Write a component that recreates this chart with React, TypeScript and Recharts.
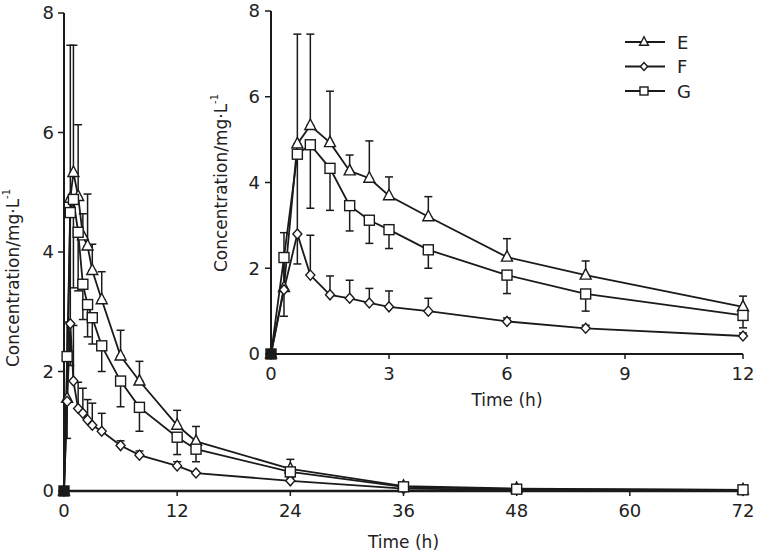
import React from 'react';
import { LineChart, Line, XAxis, YAxis, ErrorBar, Label } from 'recharts';

// sampling times (h)
const times = [0, 0.33, 0.67, 1, 1.5, 2, 2.5, 3, 4, 6, 8, 12, 14, 24, 36, 48, 72];

// mean concentrations, mg/L
const seriesE = [0, 1.55, 4.9, 5.33, 4.93, 4.27, 4.1, 3.69, 3.2, 2.26, 1.84, 1.1, 0.83, 0.37, 0.08, 0.04, 0.02];
const seriesF = [0, 1.5, 2.8, 1.84, 1.38, 1.3, 1.19, 1.1, 1.0, 0.76, 0.6, 0.42, 0.3, 0.17, 0.04, 0.02, 0.01];
const seriesG = [0, 2.25, 4.66, 4.88, 4.33, 3.46, 3.12, 2.9, 2.43, 1.84, 1.4, 0.9, 0.7, 0.32, 0.07, 0.03, 0.02];

// SD: E and F drawn upwards, G drawn downwards
const sdE = [0, 1.28, 2.56, 2.13, 1.2, 0.37, 0.87, 0.44, 0.47, 0.43, 0.33, 0.25, 0.25, 0.16, 0.04, 0.02, 0];
const sdF = [0, 0, 0, 0.93, 0.44, 0.42, 0.34, 0.37, 0.3, 0.08, 0.07, 0.07, 0, 0, 0, 0, 0];
const sdG = [0, 1.37, 2.56, 1.48, 0.98, 0.59, 0.54, 0.44, 0.43, 0.43, 0.4, 0.29, 0.21, 0.1, 0.02, 0, 0];

const mainTicks = [0, 12, 24, 36, 48, 60, 72];
const insetTicks = [0, 3, 6, 9, 12];
const concTicks = [0, 2, 4, 6, 8];
const legendNames = ['E', 'F', 'G'];

const data = times.map((t, i) => ({
  t,
  E: seriesE[i],
  F: seriesF[i],
  G: seriesG[i],
  eE: [0, sdE[i]],
  eF: [0, sdF[i]],
  eG: [sdG[i], 0],
}));
const insetData = data.filter((d) => d.t <= 12);

const INK = '#1a1a1a';
const FONT = 'DejaVu Sans';
const tickStyle = { fontSize: 18, fill: '#222', fontFamily: FONT };
const labelStyle = { fontSize: 17, fill: '#222', fontFamily: FONT };

type Shape = 'tri' | 'dia' | 'sq';

const Marker = ({ shape, cx, cy, fill, s = 1 }: { shape: Shape; cx: number; cy: number; fill: string; s?: number }) => {
  if (shape === 'tri') {
    return (
      <path
        d={`M${cx},${cy - 6.5 * s} L${cx + 5.5 * s},${cy + 4 * s} L${cx - 5.5 * s},${cy + 4 * s} Z`}
        fill={fill}
        stroke={INK}
        strokeWidth={1.4}
      />
    );
  }
  if (shape === 'dia') {
    return (
      <path
        d={`M${cx},${cy - 5 * s} L${cx + 4.5 * s},${cy} L${cx},${cy + 5 * s} L${cx - 4.5 * s},${cy} Z`}
        fill={fill}
        stroke={INK}
        strokeWidth={1.4}
      />
    );
  }
  return <rect x={cx - 5 * s} y={cy - 5 * s} width={10 * s} height={10 * s} fill={fill} stroke={INK} strokeWidth={1.4} />;
};

const makeDot = (shape: Shape) => (props: any) => {
  const { cx, cy, index, payload } = props;
  if (cx == null || cy == null) return <g key={`${shape}-${index}`} />;
  const fill = payload && payload.t === 0 ? INK : '#fff';
  return <Marker key={`${shape}-${index}`} shape={shape} cx={cx} cy={cy} fill={fill} />;
};

const ConcLabel = ({ x, y }: { x: number; y: number }) => (
  <text
    x={x}
    y={y}
    transform={`rotate(-90, ${x}, ${y})`}
    textAnchor="middle"
    dominantBaseline="central"
    fontFamily={FONT}
    fontSize={17}
    fill="#222"
  >
    Concentration/mg·L<tspan fontSize={10} dy={-7}>-1</tspan>
  </text>
);

const lines = (
  [
    ['E', 'eE', 'tri'],
    ['F', 'eF', 'dia'],
    ['G', 'eG', 'sq'],
  ] as [string, string, Shape][]
).map(([key, err, shape]) => (
  <Line
    key={key}
    dataKey={key}
    type="linear"
    stroke={INK}
    strokeWidth={1.8}
    dot={makeDot(shape)}
    activeDot={false}
    isAnimationActive={false}
  >
    <ErrorBar dataKey={err} direction="y" width={4} stroke={INK} strokeWidth={1.5} />
  </Line>
));

const Legend = () => (
  <svg width={90} height={80} style={{ position: 'absolute', left: 620, top: 28 }}>
    {legendNames.map((name, i) => {
      const y = 14 + i * 24.5;
      const shape: Shape = i === 0 ? 'tri' : i === 1 ? 'dia' : 'sq';
      return (
        <g key={name}>
          <line x1={5} x2={45} y1={y} y2={y} stroke={INK} strokeWidth={1.8} />
          <Marker shape={shape} cx={24} cy={y} fill="#fff" s={0.8} />
          <text x={57} y={y} dominantBaseline="central" fontFamily={FONT} fontSize={18} fill="#222">
            {name}
          </text>
        </g>
      );
    })}
  </svg>
);

export default function App() {
  return (
    <div style={{ position: 'absolute', left: 0, top: 0, width: 757, height: 557, background: '#fff' }}>
      <div style={{ position: 'absolute', left: 0, top: 0 }}>
        <LineChart width={757} height={557} data={data} margin={{ top: 13, right: 14, bottom: 42, left: 0 }}>
          <XAxis
            dataKey="t"
            type="number"
            domain={[0, 72]}
            ticks={mainTicks}
            interval={0}
            height={24}
            tickSize={5}
            tickMargin={8}
            tick={tickStyle}
            axisLine={{ stroke: INK, strokeWidth: 2.5 }}
            tickLine={{ stroke: INK, strokeWidth: 1.5 }}
          >
            <Label value="Time (h)" position="bottom" offset={21} style={labelStyle} />
          </XAxis>
          <YAxis
            type="number"
            domain={[0, 8]}
            ticks={concTicks}
            interval={0}
            width={64}
            tickSize={6}
            tickMargin={4}
            tick={tickStyle}
            axisLine={{ stroke: INK, strokeWidth: 2 }}
            tickLine={{ stroke: INK, strokeWidth: 1.5 }}
          >
            <Label content={() => <ConcLabel x={13} y={278} />} />
          </YAxis>
          {lines}
        </LineChart>
      </div>
      <div style={{ position: 'absolute', left: 0, top: 0 }}>
        <LineChart width={757} height={557} data={insetData} margin={{ top: 11, right: 14, bottom: 179, left: 0 }}>
          <XAxis
            dataKey="t"
            type="number"
            domain={[0, 12]}
            ticks={insetTicks}
            interval={0}
            height={24}
            tickSize={5}
            tickMargin={8}
            tick={tickStyle}
            axisLine={{ stroke: INK, strokeWidth: 2 }}
            tickLine={{ stroke: INK, strokeWidth: 1.5 }}
          >
            <Label value="Time (h)" position="bottom" offset={16} style={labelStyle} />
          </XAxis>
          <YAxis
            type="number"
            domain={[0, 8]}
            ticks={concTicks}
            interval={0}
            width={271}
            tickSize={6}
            tickMargin={5}
            tick={tickStyle}
            axisLine={{ stroke: INK, strokeWidth: 2 }}
            tickLine={{ stroke: INK, strokeWidth: 1.5 }}
          >
            <Label content={() => <ConcLabel x={221} y={183} />} />
          </YAxis>
          {lines}
        </LineChart>
      </div>
      <Legend />
    </div>
  );
}
